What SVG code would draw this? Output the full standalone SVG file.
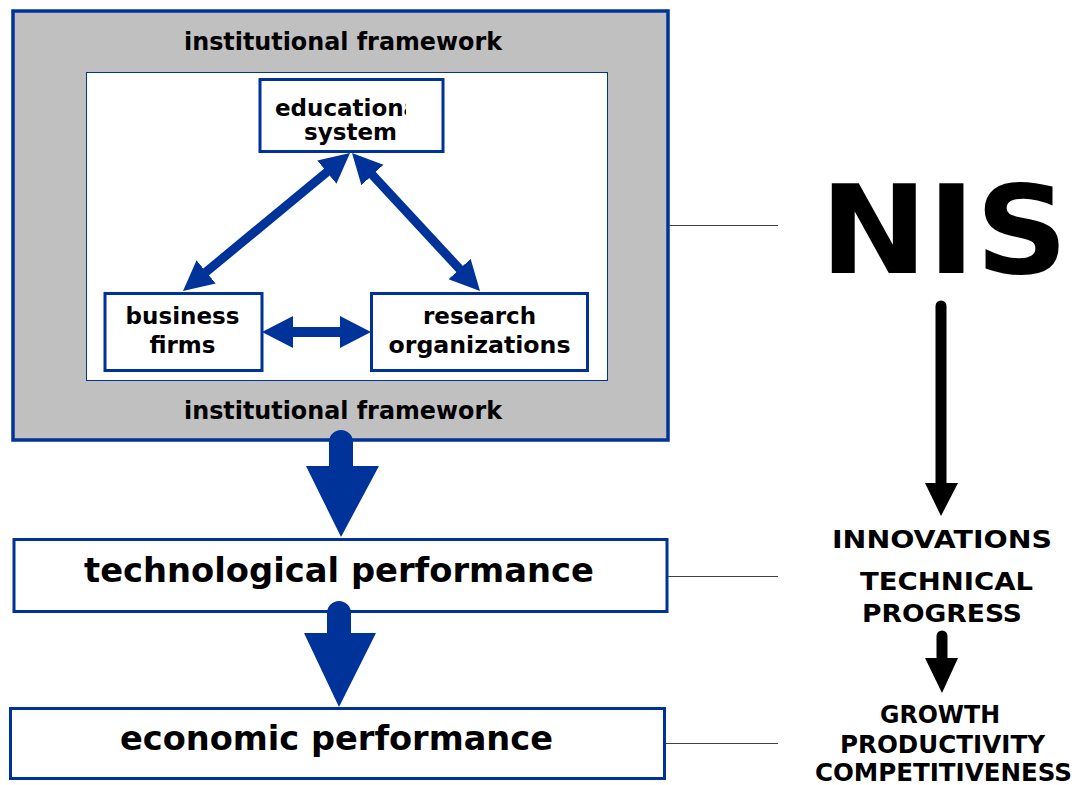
<svg xmlns="http://www.w3.org/2000/svg" width="1076" height="785" viewBox="0 0 1076 785">
<style>
text{font-family:"DejaVu Sans","Liberation Sans",sans-serif;font-weight:bold;fill:#000}
.node{fill:#fff;stroke:#003399;stroke-width:3}
.blue{fill:#003399}
.dl{stroke:#003399;stroke-width:9;fill:none}
.gl{stroke:#404040;stroke-width:1}
.nt{font-size:23px;text-anchor:middle}
.rt{font-size:24px}
</style>
<defs>
<marker id="ah" markerUnits="userSpaceOnUse" markerWidth="32" markerHeight="32" viewBox="0 0 32 32" refX="18" refY="16" orient="auto-start-reverse">
<path d="M0,1 L30,16 L0,31 Z" fill="#003399"/>
</marker>
<clipPath id="edclip"><rect x="260" y="80" width="146" height="70"/></clipPath>
</defs>

<g id="framework">
<rect x="13" y="11" width="655" height="429" fill="#c0c0c0" stroke="#003399" stroke-width="3.5"/>
<rect x="86.5" y="72.5" width="521" height="308" fill="#fff" stroke="#003399" stroke-width="1"/>
<text x="343" y="50" font-size="24" text-anchor="middle" textLength="318" lengthAdjust="spacingAndGlyphs">institutional framework</text>
<text x="343" y="419" font-size="24" text-anchor="middle" textLength="318" lengthAdjust="spacingAndGlyphs">institutional framework</text>
</g>

<g id="education">
<rect class="node" x="260" y="79.5" width="183" height="72"/>
<text class="nt" x="351" y="116" clip-path="url(#edclip)">educational</text>
<text class="nt" x="350.5" y="140">system</text>
</g>

<g id="business">
<rect class="node" x="105" y="293.5" width="157" height="77"/>
<text class="nt" x="182.5" y="324">business</text>
<text class="nt" x="182.5" y="353">firms</text>
</g>

<g id="research">
<rect class="node" x="371.5" y="293.5" width="216" height="77"/>
<text class="nt" x="479.5" y="324">research</text>
<text class="nt" x="479.5" y="353" textLength="182" lengthAdjust="spacingAndGlyphs">organizations</text>
</g>

<g id="technological">
<rect class="node" x="14" y="539.5" width="653" height="72"/>
<text x="339" y="582" font-size="33" text-anchor="middle" textLength="510" lengthAdjust="spacingAndGlyphs">technological performance</text>
</g>

<g id="economic">
<rect class="node" x="10.5" y="708.5" width="654" height="70"/>
<text x="336.5" y="750" font-size="33" text-anchor="middle" textLength="433" lengthAdjust="spacingAndGlyphs">economic performance</text>
</g>

<g id="nis">
<text x="820" y="273" font-size="123" textLength="248" lengthAdjust="spacingAndGlyphs">NIS</text>
</g>

<g id="innovations">
<text x="832" y="548" font-size="25" textLength="220" lengthAdjust="spacingAndGlyphs">INNOVATIONS</text>
</g>

<g id="technical-progress">
<text x="860" y="590" font-size="25" textLength="173" lengthAdjust="spacingAndGlyphs">TECHNICAL</text>
<text x="862" y="622" font-size="25" textLength="160" lengthAdjust="spacingAndGlyphs">PROGRESS</text>
</g>

<g id="growth">
<text class="rt" x="880" y="723" textLength="120" lengthAdjust="spacingAndGlyphs">GROWTH</text>
<text class="rt" x="840" y="753" textLength="205" lengthAdjust="spacingAndGlyphs">PRODUCTIVITY</text>
<text class="rt" x="815" y="781" textLength="257" lengthAdjust="spacingAndGlyphs">COMPETITIVENESS</text>
</g>

<g id="connectors">
<line class="dl" x1="340.75" y1="160.64" x2="192.25" y2="283.36" marker-start="url(#ah)" marker-end="url(#ah)"/>
<line class="dl" x1="360.16" y1="161.8" x2="471.84" y2="282.2" marker-start="url(#ah)" marker-end="url(#ah)"/>
<polygon class="blue" points="262,332 293,316 293,327 340,327 340,316 371,332 340,348 340,337 293,337 293,348"/>
<path class="blue" d="M329,466 L329,442 A12,12 0 0 1 353,442 L353,466 L379,466 L341,537 L306,466 Z"/>
<path class="blue" d="M327,633 L327,613 A12,12 0 0 1 351,613 L351,633 L376,633 L339,707 L304,633 Z"/>
<line class="gl" x1="669" y1="225.5" x2="778" y2="225.5"/>
<line class="gl" x1="668" y1="576.5" x2="778" y2="576.5"/>
<line class="gl" x1="666" y1="743.5" x2="778" y2="743.5"/>
<line x1="941" y1="306" x2="941" y2="486" stroke="#000" stroke-width="11" stroke-linecap="round"/>
<polygon points="925,483 958,483 941,516" fill="#000"/>
<line x1="942" y1="636" x2="942" y2="660" stroke="#000" stroke-width="11" stroke-linecap="round"/>
<polygon points="925,658 958,658 942,693" fill="#000"/>
</g>
</svg>
